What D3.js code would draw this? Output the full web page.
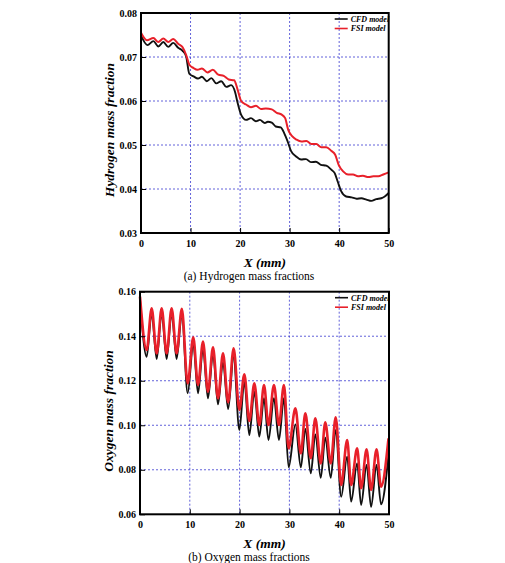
<!DOCTYPE html>
<html lang="en">
<head>
<meta charset="UTF-8">
<title>Mass fractions</title>
<script src="https://cdn.jsdelivr.net/npm/d3@7"></script>
<style>
  body { margin: 0; background: #fff; }
  text { font-family: "Liberation Serif", "Times New Roman", serif; }
</style>
</head>
<body>
<svg id="mainsvg" width="505" height="563"></svg>
<script>
// ---- data ----
const seriesNames = ['CFD model', 'FSI model']

// (a) hydrogen
const h2CfdX = [0, 1.3, 2.5, 3.5, 4.5, 5.5, 6.5, 7.5, 8.4, 9.1, 9.75, 10.6, 11.5, 12.3, 13.3, 14.2, 15.2, 16.2, 17.2, 18.2, 19.0, 19.5, 20.2, 21.2, 22.2, 23.2, 24.0, 25.0, 25.6, 26.4, 27.2, 28.2, 28.9, 29.6, 30.3, 31.3, 32.3, 33.3, 34.3, 35.3, 36.3, 37.4, 38.4, 39.1, 39.7, 40.4, 41.4, 42.5, 43.5, 44.5, 45.5, 46.5, 47.5, 48.5, 49.2, 50]
const h2CfdY = [0.0749, 0.0727, 0.0736, 0.0724, 0.0734, 0.0723, 0.0732, 0.0721, 0.0714, 0.0702, 0.0662, 0.0656, 0.0651, 0.0655, 0.0645, 0.0652, 0.0640, 0.0645, 0.0632, 0.0636, 0.0620, 0.0596, 0.0569, 0.0557, 0.0561, 0.0554, 0.0557, 0.0550, 0.0553, 0.0551, 0.0542, 0.0540, 0.0527, 0.0508, 0.0486, 0.0474, 0.0467, 0.0468, 0.0461, 0.0462, 0.0455, 0.0453, 0.0444, 0.0436, 0.0417, 0.0395, 0.0383, 0.0381, 0.0378, 0.0379, 0.0376, 0.0373, 0.0377, 0.0379, 0.0383, 0.0391]
const h2FsiX = [0, 1.2, 2.5, 3.5, 4.5, 5.5, 6.5, 7.5, 8.4, 9.1, 9.8, 10.6, 11.4, 12.3, 13.4, 14.5, 15.6, 16.7, 17.7, 18.8, 19.5, 20.2, 21.2, 22.2, 23.2, 24.2, 25.2, 26.4, 27.4, 28.4, 29.1, 29.7, 30.5, 31.4, 32.4, 33.4, 34.4, 35.4, 36.4, 37.4, 38.4, 39.2, 39.9, 40.8, 41.8, 42.8, 43.8, 44.8, 45.9, 46.9, 47.9, 48.9, 50]
const h2FsiY = [0.0755, 0.0738, 0.0743, 0.0734, 0.0742, 0.0734, 0.0741, 0.0730, 0.0722, 0.0705, 0.0682, 0.0675, 0.0671, 0.0674, 0.0665, 0.0671, 0.0660, 0.0657, 0.0649, 0.0647, 0.0626, 0.0600, 0.0592, 0.0586, 0.0589, 0.0582, 0.0583, 0.0581, 0.0573, 0.0569, 0.0561, 0.0535, 0.0520, 0.0512, 0.0508, 0.0509, 0.0502, 0.0502, 0.0495, 0.0495, 0.0487, 0.0478, 0.0455, 0.0440, 0.0433, 0.0433, 0.0429, 0.0430, 0.0427, 0.0429, 0.0429, 0.0433, 0.0438]

// (b) oxygen
const o2X = [0, 1.34, 2.34, 3.35, 4.35, 5.35, 6.35, 7.35, 8.4, 9.57, 10.7, 11.65, 12.65, 13.65, 14.66, 15.66, 16.67, 17.7, 18.8, 19.95, 20.95, 21.95, 22.96, 23.96, 24.9, 25.8, 26.9, 27.9, 28.9, 29.85, 31.2, 32.3, 33.2, 34.3, 35.2, 36.3, 37.2, 38.3, 39.3, 40.4, 41.6, 42.4, 43.6, 44.4, 45.5, 46.4, 47.5, 48.4, 49.9]
const o2Cfd = [0.1565, 0.1308, 0.1503, 0.1298, 0.1503, 0.1298, 0.1503, 0.1298, 0.1497, 0.1144, 0.1364, 0.1144, 0.1343, 0.1121, 0.1320, 0.1094, 0.1283, 0.1073, 0.1308, 0.0979, 0.1196, 0.0956, 0.1151, 0.0949, 0.1121, 0.0934, 0.1121, 0.0934, 0.1121, 0.0811, 0.1004, 0.0811, 0.0983, 0.0784, 0.0959, 0.0764, 0.0944, 0.0764, 0.0979, 0.0679, 0.0859, 0.0657, 0.0829, 0.0642, 0.0822, 0.0634, 0.0822, 0.0645, 0.0866]
const o2Fsi = [0.1578, 0.1338, 0.1525, 0.1323, 0.1525, 0.1323, 0.1525, 0.1323, 0.1523, 0.1188, 0.1395, 0.1181, 0.1376, 0.1151, 0.1350, 0.1121, 0.1323, 0.1103, 0.1346, 0.1069, 0.1229, 0.1019, 0.1188, 0.1001, 0.1181, 0.1001, 0.1181, 0.1001, 0.1181, 0.0896, 0.1076, 0.0874, 0.1054, 0.0852, 0.1031, 0.0829, 0.1013, 0.0829, 0.1036, 0.0732, 0.0934, 0.0732, 0.0896, 0.0717, 0.0892, 0.0709, 0.0892, 0.0724, 0.0941]

const xTicks = [0, 10, 20, 30, 40, 50]
const h2Ticks = [0.03, 0.04, 0.05, 0.06, 0.07, 0.08]
const o2Ticks = [0.06, 0.08, 0.10, 0.12, 0.14, 0.16]

const svg = d3.select('#mainsvg')
const colors = ['#111111', '#e8202a']

function minors(ticks) {
  const out = []
  for (let i = 0; i < ticks.length - 1; i++) {
    const step = (ticks[i + 1] - ticks[i]) / 6
    for (let k = 1; k < 6; k++) out.push(ticks[i] + k * step)
  }
  return out
}

function drawPanel(p) {
  const x = d3.scaleLinear().domain([0, 50]).range([p.left, p.right])
  const y = d3.scaleLinear().domain([p.yTicks[0], p.yTicks[p.yTicks.length - 1]]).range([p.bottom, p.top])
  const g = svg.append('g')

  // grid
  g.selectAll('.gx').data(xTicks.slice(1, -1)).join('line')
    .attr('x1', d => x(d)).attr('x2', d => x(d))
    .attr('y1', p.top).attr('y2', p.bottom)
    .attr('stroke', '#3a3ad0').attr('stroke-width', 0.8).attr('stroke-dasharray', '2,2')
  g.selectAll('.gy').data(p.yTicks.slice(1, -1)).join('line')
    .attr('y1', d => y(d)).attr('y2', d => y(d))
    .attr('x1', p.left).attr('x2', p.right)
    .attr('stroke', '#3a3ad0').attr('stroke-width', 0.8).attr('stroke-dasharray', '2,2')

  // curves
  const line = d3.line().curve(d3.curveMonotoneX).x(d => x(d[0])).y(d => y(d[1]))
  p.series.forEach((s, i) => {
    g.append('path').datum(d3.zip(s.x, s.y))
      .attr('d', line).attr('fill', 'none')
      .attr('stroke', colors[i]).attr('stroke-width', i ? p.redW : 1.9)
  })

  // axes (ticks pointing inward)
  const xa = g.append('g').attr('transform', `translate(0,${p.bottom})`)
  xa.call(d3.axisBottom(x).tickValues(minors(xTicks)).tickSize(-3).tickFormat(''))
  xa.call(d3.axisBottom(x).tickValues(xTicks).tickSize(-5).tickPadding(7).tickFormat(d3.format('d')))
  const ya = g.append('g').attr('transform', `translate(${p.left},0)`)
  ya.call(d3.axisLeft(y).tickValues(minors(p.yTicks)).tickSize(-3).tickFormat(''))
  ya.call(d3.axisLeft(y).tickValues(p.yTicks).tickSize(-5).tickPadding(4).tickFormat(d3.format('.2f')))
  g.selectAll('.domain').remove()
  g.selectAll('.tick line').attr('stroke', '#000').attr('stroke-width', 1)
  g.selectAll('.tick text').attr('font-size', 10).attr('font-weight', 'bold')
    .attr('font-family', '"Liberation Serif", serif').attr('fill', '#000')

  // frame
  g.append('rect').attr('x', p.left).attr('y', p.top)
    .attr('width', p.right - p.left).attr('height', p.bottom - p.top)
    .attr('fill', 'none').attr('stroke', '#000').attr('stroke-width', 2)

  // legend
  seriesNames.forEach((n, i) => {
    const ly = p.top + 6 + i * 9.5
    g.append('line').attr('x1', p.right - 54).attr('x2', p.right - 41)
      .attr('y1', ly).attr('y2', ly).attr('stroke', colors[i]).attr('stroke-width', 1.6)
    g.append('text').text(n).attr('x', p.right - 38).attr('y', ly + 2.8)
      .attr('font-size', 8).attr('font-weight', 'bold').attr('font-style', 'italic')
  })

  // titles
  g.append('text').text('X (mm)')
    .attr('x', (p.left + p.right) / 2).attr('y', p.bottom + 34)
    .attr('text-anchor', 'middle').attr('font-size', 13.5)
    .attr('font-weight', 'bold').attr('font-style', 'italic')
  g.append('text').text(p.yTitle)
    .attr('transform', `translate(${p.left - 27},${p.yTitleMid}) rotate(-90)`)
    .attr('text-anchor', 'middle').attr('font-size', 13.5)
    .attr('font-weight', 'bold').attr('font-style', 'italic')
  g.append('text').text(p.caption)
    .attr('x', 249).attr('y', p.bottom + 47)
    .attr('text-anchor', 'middle').attr('font-size', 11.5)
}

drawPanel({
  left: 141, right: 388.7, top: 13, bottom: 233, redW: 2,
  yTicks: h2Ticks, yTitle: 'Hydrogen mass fraction', yTitleMid: 130,
  caption: '(a) Hydrogen mass fractions',
  series: [{ x: h2CfdX, y: h2CfdY }, { x: h2FsiX, y: h2FsiY }]
})
drawPanel({
  left: 140, right: 389, top: 291.7, bottom: 514.3, redW: 2.6,
  yTicks: o2Ticks, yTitle: 'Oxygen mass fraction', yTitleMid: 411,
  caption: '(b) Oxygen mass fractions',
  series: [{ x: o2X, y: o2Cfd }, { x: o2X, y: o2Fsi }]
})
</script>
</body>
</html>
